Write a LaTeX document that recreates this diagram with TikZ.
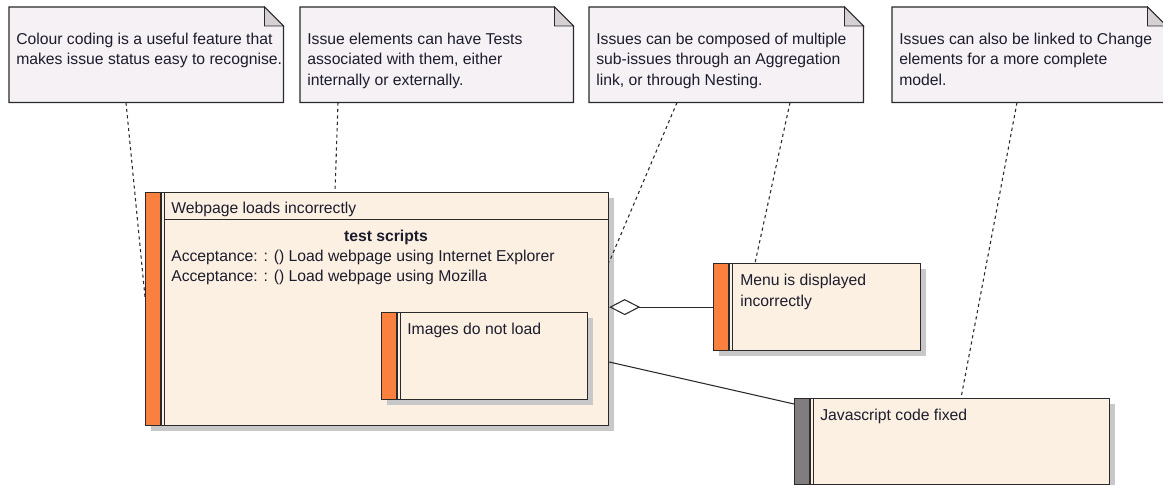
\documentclass[tikz,border=0pt]{standalone}
\usepackage{fontspec}
\setmainfont{Liberation Sans}
\usetikzlibrary{calc,shadows,arrows.meta}
\definecolor{notefill}{HTML}{F5F1F5}
\definecolor{foldfill}{HTML}{D4D0D4}
\definecolor{boxfill}{HTML}{FCF0E2}
\definecolor{orangebar}{HTML}{FA8040}
\definecolor{greybar}{HTML}{807C80}
\definecolor{shadowc}{HTML}{C8C8C8}
\definecolor{edge}{HTML}{2A2A2A}
\definecolor{ink}{HTML}{1C1C2C}
\tikzset{
  txt/.style={inner sep=0pt, font=\fontsize{11.8}{15.3}\selectfont, align=left, text=ink},
  notebox/.style={inner sep=0pt, anchor=north west, minimum width=#1, minimum height=71.25pt},
  noteshape/.style={draw=edge, line width=0.9pt, fill=notefill, line join=miter},
  foldshape/.style={draw=edge, line width=0.6pt, fill=foldfill},
  issue/.style={draw=edge, line width=0.9pt, fill=boxfill, inner sep=0pt, anchor=north west,
    general shadow={fill=shadowc, shadow xshift=3.75pt, shadow yshift=-3.75pt},
    path picture={
      \fill[#1] (path picture bounding box.north west) rectangle ([xshift=10.5pt]path picture bounding box.south west);
      \draw[edge, line width=1.6pt] ([xshift=11.4pt]path picture bounding box.north west) -- ([xshift=11.4pt]path picture bounding box.south west);
      \draw[edge, line width=0.7pt] ([xshift=13.9pt]path picture bounding box.north west) -- ([xshift=13.9pt]path picture bounding box.south west);
    }},
  conn/.style={draw=edge, line width=0.8pt, dash pattern=on 2.4pt off 2.4pt},
  link/.style={draw=edge, line width=0.8pt}
}
\begin{document}
\begin{tikzpicture}[x=0.75pt,y=-0.75pt]
\clip (0,0) rectangle (1163,485);
% notes
\node[notebox=205.5pt] (n1) at (9,7) {};
\node[notebox=204.75pt] (n2) at (300,7) {};
\node[notebox=205.5pt] (n3) at (589,7) {};
\node[notebox=205.5pt] (n4) at (892,7) {};
\foreach \n in {n1,n2,n3,n4}{
  \filldraw[noteshape] (\n.north west) -- ($(\n.north east)+(-19,0)$) -- ($(\n.north east)+(0,19)$) -- (\n.south east) -- (\n.south west) -- cycle;
  \filldraw[foldshape] ($(\n.north east)+(-19,0)$) -- ($(\n.north east)+(-19,19)$) -- ($(\n.north east)+(0,19)$) -- cycle;
}
% base anchor of a multi-line node = baseline of its last line
\node[txt, anchor=base west] (t1) at (16,64.5) {Colour coding is a useful feature that\\makes issue status easy to recognise.};
\node[txt, anchor=base west] (t2) at (307,85) {Issue elements can have Tests\\associated with them, either\\internally or externally.};
\node[txt, anchor=base west] (t3) at (596,85) {Issues can be composed of multiple\\sub-issues through an Aggregation\\link, or through Nesting.};
\node[txt, anchor=base west] (t4) at (899,85) {Issues can also be linked to Change\\elements for a more complete\\model.};
% issues
\node[issue=orangebar, minimum width=347.25pt, minimum height=174.75pt] (main) at (145,192) {};
\draw[edge, line width=0.75pt] ($(main.north west)+(19,27)$) -- ($(main.north east)+(0,27)$);
\node[txt, anchor=base west] (mtitle) at (171,213) {Webpage loads incorrectly};
\node[txt, anchor=base] (mhead) at (386,241) {\bfseries test scripts};
\node[txt, anchor=base west] (mt1) at (171,261) {Acceptance: : () Load webpage using Internet Explorer};
\node[txt, anchor=base west] (mt2) at (171,281) {Acceptance: : () Load webpage using Mozilla};
\node[issue=orangebar, minimum width=154.5pt, minimum height=65.25pt] (img) at (381,312) {};
\node[txt, anchor=base west] (imgt) at (407,334) {Images do not load};
\node[issue=orangebar, minimum width=155.25pt, minimum height=65.25pt] (menu) at (713,263) {};
\node[txt, anchor=base west] (menut) at (740,306) {Menu is displayed\\incorrectly};
\node[issue=greybar, minimum width=236.25pt, minimum height=64.5pt] (js) at (794,398) {};
\node[txt, anchor=base west] (jst) at (820,420) {Javascript code fixed};
% connectors
\draw[link, {Diamond[open, length=23.25pt, width=12pt, line width=0.8pt]}-] (main.east |- menu.west) -- (menu.west);
\draw[link] ($(main.north east)+(0,170)$) -- ($(js.north west)+(0,6)$);
\draw[conn] ($(n1.south west)+(117,0)$) -- ($(main.north west)+(0,105)$);
\draw[conn] ($(n2.south west)+(38,0)$) -- ($(main.north west)+(190,0)$);
\draw[conn] ($(n3.south west)+(88,0)$) -- ($(main.north east)+(0,70)$);
\draw[conn] ($(n3.south west)+(201,0)$) -- ($(menu.north west)+(42,0)$);
\draw[conn] ($(n4.south west)+(125,0)$) -- ($(js.north west)+(167,0)$);
\end{tikzpicture}
\end{document}
